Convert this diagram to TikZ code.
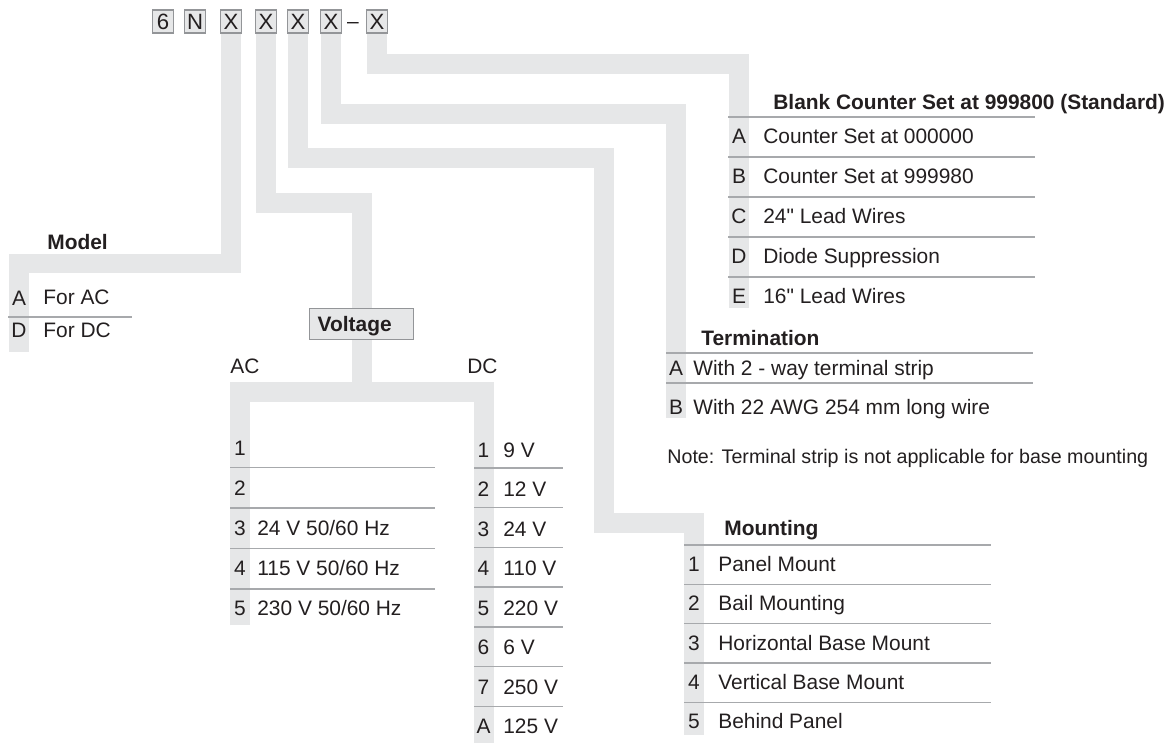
\documentclass[tikz,border=0pt]{standalone}
\usepackage{fontspec}
\setmainfont{Liberation Sans}
\setmonofont{Liberation Sans}
\definecolor{bargray}{HTML}{E6E7E8}
\definecolor{rulegray}{HTML}{A7A9AC}
\definecolor{boxline}{HTML}{939598}
\definecolor{ink}{HTML}{231F20}
\newcommand{\inch}{{\ttfamily"}}
\begin{document}
\begin{tikzpicture}[x=0.02cm, y=-0.02cm, text=ink,
		font=\fontsize{11.9}{14}\selectfont,
		bar/.style={bargray, line width=0.4cm, line join=miter},
		rule/.style={rulegray, line width=0.8pt},
		codebox/.style={draw=boxline, fill=bargray, line width=0.6pt, minimum width=0.43cm, minimum height=0.46cm, inner sep=0pt, font=\fontsize{12.6}{14}\selectfont},
		txt/.style={inner sep=0pt, text height=8.5pt, text depth=0pt},
		item/.style={txt, anchor=west},
		head/.style={item, font=\fontsize{11.9}{14}\selectfont\bfseries}]
		\useasboundingbox[fill=white] (0,0) rectangle (1175,743);
		% code boxes
		\node[codebox] (c6) at (163,21.5) {6};
		\node[codebox] (cN) at (195,21.5) {N};
		\node[codebox] (x1) at (231,21.5) {X};
		\node[codebox] (x2) at (266,21.5) {X};
		\node[codebox] (x3) at (298,21.5) {X};
		\node[codebox] (x4) at (331,21.5) {X};
		\node[txt] (dash) at (353,21.5) {–};
		\node[codebox] (x5) at (377,21.5) {X};
		% turning points of the bars
		\coordinate (t1) at (19,263.5);
		\coordinate (mdlend) at (19,352);
		\coordinate (t2) at (362,203);
		\coordinate (vsplit) at (362,391.5);
		\coordinate (acend) at (240,625);
		\coordinate (dctop) at (483.5,391.5);
		\coordinate (dcend) at (483.5,743);
		\coordinate (t3) at (603.5,158);
		\coordinate (t4) at (694,523);
		\coordinate (mntend) at (694,735);
		\coordinate (t5) at (676,114);
		\coordinate (trmend) at (676,418);
		\coordinate (t6) at (739,64);
		\coordinate (bcend) at (739,308);
		% bars
		\draw[bar] (x1.south) |- (t1) -- (mdlend);
		\draw[bar] (x2.south) |- (t2) -- (vsplit);
		\draw[bar] (acend) |- (dctop) -- (dcend);
		\draw[bar] (x3.south) |- (t3) |- (t4) -- (mntend);
		\draw[bar] (x4.south) |- (t5) -- (trmend);
		\draw[bar] (x5.south) |- (t6) -- (bcend);
		
		% model
		\node[head] (model) at (47,242) {Model};
		\draw[rule] (8,317) -- (132,317);
		\node[txt] (mA) at (19,298) {A};
		\node[item] (mAt) at (43,297) {For AC};
		\node[txt] (mD) at (19,330) {D};
		\node[item] (mDt) at (43,330) {For DC};
		
		% voltage
		\node[txt, draw=boxline, fill=bargray, line width=0.8pt, anchor=north west, minimum height=0.62cm,
		inner xsep=0.16cm, text width=1.76cm, align=left, font=\fontsize{11.9}{14}\selectfont\bfseries] (volt) at (309,308) {Voltage};
		\node[item] (ac) at (230,366) {AC};
		\node[item] (dc) at (467,366) {DC};
		\foreach \y in {0,...,3}
			\draw[rule] (230,467.5+40.5*\y) -- (435,467.5+40.5*\y);
		\foreach \k/\t [count=\i] in {1/{},2/{},3/{24 V 50/60 Hz},4/{115 V 50/60 Hz},5/{230 V 50/60 Hz}} {
			\node[txt] (ak\i) at (240,448+40*\i-40) {\k};
			\node[item] (at\i) at (257,448+40*\i-40) {\t};
		};
		\foreach \y in {0,...,6}
			\draw[rule] (474,468+39.7*\y) -- (563,468+39.7*\y);
		\foreach \k/\t [count=\i] in {1/9 V,2/12 V,3/24 V,4/110 V,5/220 V,6/6 V,7/250 V,A/125 V} {
			\node[txt] (dk\i) at (483.5,410.5+39.5*\i) {\k};
			\node[item] (dt\i) at (503,410.5+39.5*\i) {\t};
		};
		
		% mounting
		\node[head] (mount) at (724,528) {Mounting};
		\foreach \y in {0,...,4}
			\draw[rule] (684,545+39.3*\y) -- (991,545+39.3*\y);
		\foreach \t [count=\i] in {Panel Mount,Bail Mounting,Horizontal Base Mount,Vertical Base Mount,Behind Panel} {
			\node[txt] (nk\i) at (694,524.7+39.3*\i) {\i};
			\node[item] (nt\i) at (718,524.7+39.3*\i) {\t};
		};
		
		% termination
		\node[head] (term) at (701,338) {Termination};
		\draw[rule] (666,353) -- (1033,353);
		\draw[rule] (666,383) -- (1033,383);
		\node[txt] (tA) at (676,368) {A};
		\node[item] (tAt) at (693,368) {With 2 - way terminal strip};
		\node[txt] (tB) at (676,407) {B};
		\node[item] (tBt) at (693,407) {With 22 AWG 254 mm long wire};
		\node[item, text height=8pt, font=\fontsize{11.2}{13}\selectfont] (note) at (667,456) {Note: Terminal strip is not applicable for base mounting};
		
		% counter options
		\node[head] (blank) at (773,102) {Blank Counter Set at 999800 (Standard)};
		\foreach \y in {0,...,4}
			\draw[rule] (728,117+40*\y) -- (1035,117+40*\y);
		\foreach \k/\t [count=\i] in {A/Counter Set at 000000,B/Counter Set at 999980,C/24\inch{} Lead Wires,D/Diode Suppression,E/16\inch{} Lead Wires} {
			\node[txt] (bk\i) at (739,96+40*\i) {\k};
			\node[item] (bt\i) at (763,96+40*\i) {\t};
		};
\end{tikzpicture}
\end{document}
